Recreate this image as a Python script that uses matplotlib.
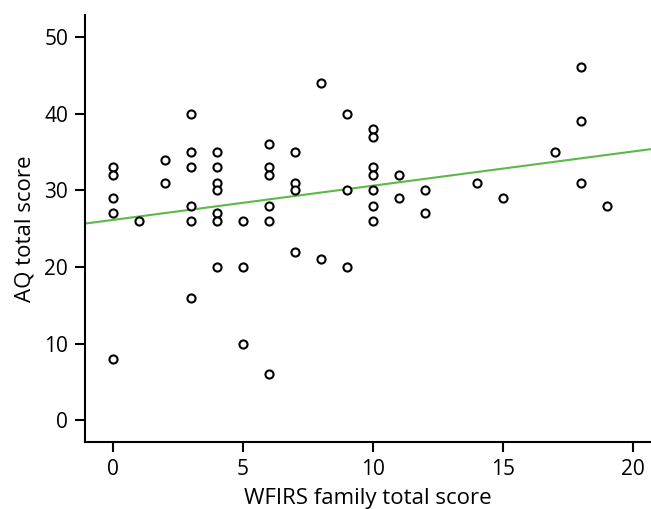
import numpy as np
import matplotlib
matplotlib.use("Agg")
from matplotlib import pyplot as plt

plt.rcParams['font.family'] = ['Open Sans', 'DejaVu Sans']

# WFIRS family score vs AQ score, one entry per participant
wfirs = [0, 0, 0, 0, 0,
         1,
         2, 2,
         3, 3, 3, 3, 3, 3,
         4, 4, 4, 4, 4, 4, 4,
         5, 5, 5,
         6, 6, 6, 6, 6, 6,
         7, 7, 7, 7,
         8, 8,
         9, 9, 9,
         10, 10, 10, 10, 10, 10, 10,
         11, 11,
         12, 12,
         14, 15, 17,
         18, 18, 18,
         19]
aq = [33, 32, 29, 27, 8,
      26,
      34, 31,
      40, 35, 33, 28, 26, 16,
      35, 33, 31, 30, 27, 26, 20,
      26, 20, 10,
      36, 33, 32, 28, 26, 6,
      35, 31, 30, 22,
      44, 21,
      40, 30, 20,
      38, 37, 33, 32, 30, 28, 26,
      32, 29,
      30, 27,
      31, 29, 35,
      46, 39, 31,
      28]

slope, intercept = np.polyfit(wfirs, aq, 1)

fig = plt.figure(figsize=(6.51, 5.09), dpi=100)
ax = fig.add_axes([0.1301, 0.1316, 0.8699, 0.8389])

ax.scatter(wfirs, aq, s=34, facecolors='white', edgecolors='black',
           linewidths=1.5, zorder=3)

xlim = (-1.077, 20.7)
xs = np.array(xlim)
ax.plot(xs, intercept + slope * xs, color='#5cb848', lw=1.5, zorder=2)

ax.set_xlim(*xlim)
ax.set_ylim(-2.83, 52.84)
ax.set_xticks([0, 5, 10, 15, 20])
ax.set_yticks([0, 10, 20, 30, 40, 50])

for side in ['top', 'right']:
    ax.spines[side].set_visible(False)
for side in ['left', 'bottom']:
    ax.spines[side].set_linewidth(1.5)

ax.tick_params(direction='out', length=7, width=1.5, labelsize=15, pad=5)
ax.set_xlabel('WFIRS family total score', fontsize=16, labelpad=6)
ax.set_ylabel('AQ total score', fontsize=16, labelpad=6)

fig.savefig('out.png', dpi=100)
